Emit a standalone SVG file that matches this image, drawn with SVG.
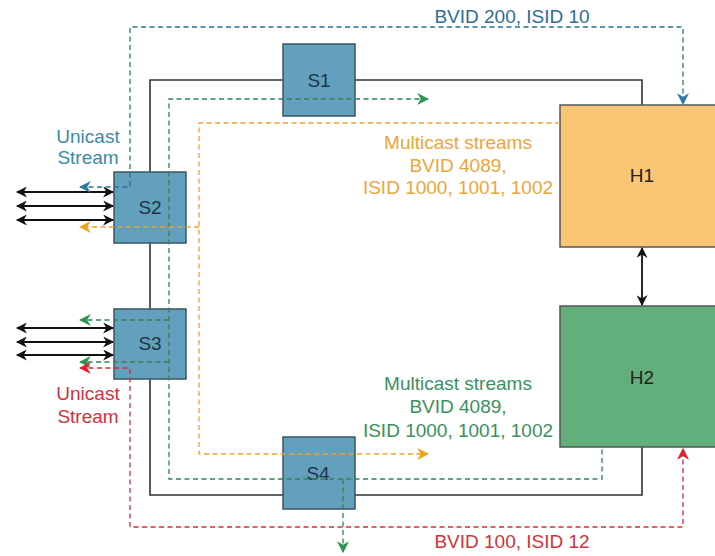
<svg xmlns="http://www.w3.org/2000/svg" width="715" height="556" viewBox="0 0 715 556">
<style>
text{font-family:"Liberation Sans",Arial,sans-serif;font-size:19px;text-anchor:middle}
.sw rect{fill:#62a0be;stroke:#3a5566;stroke-width:1.5}
.sw text{fill:#1e3344}
.ring{fill:none;stroke:#333;stroke-width:1.6}
.dbl{fill:none;stroke:#111;stroke-width:1.8;marker-start:url(#ak);marker-end:url(#ak)}
.d{fill:none;stroke-width:1.3;stroke-dasharray:5 3.5}
.blue{stroke:#2e6f93}
.green{stroke:#2f8255}
.orange{stroke:#efa22e}
.red{stroke:#d42c38}
</style>
<defs>
<marker id="ak" viewBox="0 0 10 10" refX="9" refY="5" markerWidth="12" markerHeight="11" markerUnits="userSpaceOnUse" orient="auto-start-reverse"><path d="M0,0 L10,5 L0,10 L3,5 z" fill="#111"/></marker>
<marker id="ab" viewBox="0 0 10 10" refX="9" refY="5" markerWidth="12" markerHeight="12" markerUnits="userSpaceOnUse" orient="auto-start-reverse"><path d="M0,0 L10,5 L0,10 L3,5 z" fill="#2e7aa0"/></marker>
<marker id="ag" viewBox="0 0 10 10" refX="9" refY="5" markerWidth="12" markerHeight="12" markerUnits="userSpaceOnUse" orient="auto-start-reverse"><path d="M0,0 L10,5 L0,10 L3,5 z" fill="#2e9550"/></marker>
<marker id="ao" viewBox="0 0 10 10" refX="9" refY="5" markerWidth="12" markerHeight="12" markerUnits="userSpaceOnUse" orient="auto-start-reverse"><path d="M0,0 L10,5 L0,10 L3,5 z" fill="#f0a020"/></marker>
<marker id="ar" viewBox="0 0 10 10" refX="9" refY="5" markerWidth="12" markerHeight="12" markerUnits="userSpaceOnUse" orient="auto-start-reverse"><path d="M0,0 L10,5 L0,10 L3,5 z" fill="#e02030"/></marker>
</defs>
<rect width="715" height="556" fill="#fff"/>

<g id="links">
<path class="ring" d="M150,172 V80 H283"/>
<path class="ring" d="M355,80 H642 V105"/>
<path class="ring" d="M150,243 V309"/>
<path class="ring" d="M150,379 V495 H283"/>
<path class="ring" d="M355,495 H642 V447"/>
</g>

<g id="S1" class="sw"><rect x="283" y="44" width="72" height="72"/><text x="319" y="87">S1</text></g>
<g id="S2" class="sw"><rect x="114" y="172" width="72" height="71"/><text x="150" y="214">S2</text></g>
<g id="S3" class="sw"><rect x="114" y="309" width="72" height="70"/><text x="150" y="350">S3</text></g>
<g id="S4" class="sw"><rect x="283" y="437" width="72" height="72"/><text x="318" y="480">S4</text></g>
<g id="H1"><rect x="560" y="105" width="160" height="142" fill="#fac676" stroke="#555" stroke-width="1.5"/><text x="642" y="182" fill="#222">H1</text></g>
<g id="H2"><rect x="560" y="306" width="160" height="141" fill="#62af7b" stroke="#555" stroke-width="1.5"/><text x="642" y="384" fill="#222">H2</text></g>

<g id="connectors">
<path class="dbl" d="M642,248 V305"/>
<path class="dbl" d="M17,192 H113"/>
<path class="dbl" d="M17,206 H113"/>
<path class="dbl" d="M17,220 H113"/>
<path class="dbl" d="M17,328 H113"/>
<path class="dbl" d="M17,342 H113"/>
<path class="dbl" d="M17,355 H113"/>

<path class="d blue" d="M80,187 H130 V27 H683 V104" marker-start="url(#ab)" marker-end="url(#ab)"/>
<path class="d green" d="M428,99 H169 V479 H602 V447" marker-start="url(#ag)"/>
<path class="d green" d="M169,320 H80" marker-end="url(#ag)"/>
<path class="d green" d="M169,362 H80" marker-end="url(#ag)"/>
<path class="d green" d="M343,479 V552" marker-end="url(#ag)"/>
<path class="d orange" d="M560,123 H199 V454 H428" marker-end="url(#ao)"/>
<path class="d orange" d="M199,227 H80" marker-end="url(#ao)"/>
<path class="d red" d="M80,368 H130 V527 H683 V449" marker-start="url(#ar)" marker-end="url(#ar)"/>
</g>

<g id="labels">
<text x="512" y="23" fill="#2c6e96">BVID 200, ISID 10</text>
<text x="88" y="143" fill="#3a8aa9">Unicast</text>
<text x="88" y="164" fill="#3a8aa9">Stream</text>
<text x="458" y="149" fill="#eda538">Multicast streams</text>
<text x="458" y="172" fill="#eda538">BVID 4089,</text>
<text x="458" y="194" fill="#eda538">ISID 1000, 1001, 1002</text>
<text x="88" y="400" fill="#d0323c">Unicast</text>
<text x="88" y="423" fill="#d0323c">Stream</text>
<text x="458" y="390" fill="#3a9060">Multicast streams</text>
<text x="458" y="413" fill="#3a9060">BVID 4089,</text>
<text x="458" y="437" fill="#3a9060">ISID 1000, 1001, 1002</text>
<text x="512" y="548" fill="#d0323c">BVID 100, ISID 12</text>
</g>
</svg>
